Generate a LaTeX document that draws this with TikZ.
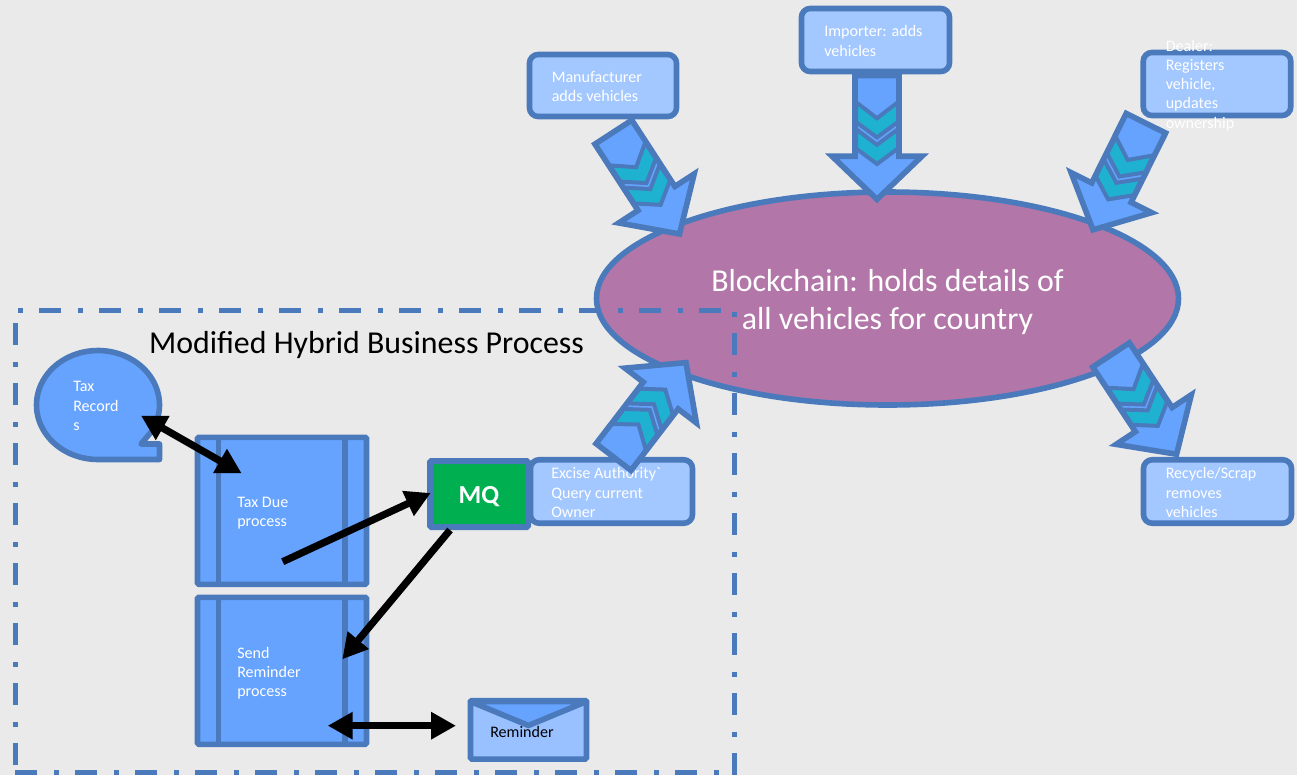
\documentclass[tikz,border=0pt]{standalone}
\usepackage{fontspec}
\setmainfont{Carlito}
\newfontfamily\plainfont{Carlito}
\usetikzlibrary{arrows.meta,shapes.geometric}
\definecolor{bgc}{HTML}{EAEAEA}
\definecolor{edgec}{HTML}{4A7ABC}
\definecolor{shaftc}{HTML}{66A3FF}
\definecolor{boxc}{HTML}{A3C7FF}
\definecolor{tealc}{HTML}{1FB2D0}
\definecolor{chainc}{HTML}{B376A8}
\definecolor{mqc}{HTML}{00B050}
\definecolor{envc}{HTML}{99C0FF}
\tikzset{
  edgeline/.style={draw=edgec,line width=4.2pt,line join=miter,miter limit=10},
  actorbox/.style={draw=edgec,line width=4.2pt,fill=boxc,rounded corners=6.5pt,inner sep=0pt},
  procbox/.style={draw=edgec,line width=4.2pt,fill=shaftc,rounded corners=1pt,inner sep=0pt},
  bodytext/.style={text=white,font=\fontsize{12.05}{14.4}\selectfont,align=left,anchor=west,inner sep=0pt},
  bigtext/.style={font=\fontsize{23.9}{28.6}\selectfont,align=center,inner sep=0pt},
  thickarrow/.style={line width=5.4pt,draw=black,{Triangle[length=18.75pt,width=19.5pt]}-{Triangle[length=18.75pt,width=19.5pt]}},
  onearrow/.style={line width=5.4pt,draw=black,-{Triangle[length=18.75pt,width=19.5pt]}},
  dotdash/.style={draw=edgec,line width=3.75pt,dash pattern=on 16.5pt off 12.75pt on 3.75pt off 12pt}
}
\newcommand{\blockarrow}[4]{%
  \begin{scope}[shift={(#1,#2)},rotate=#3,xscale=#4]
    \draw[edgeline,fill=shaftc] (2.5,-22)--(80,-22)--(80,-45)--(121.5,0)--(80,45)--(80,22)--(2.5,22)--cycle;
    \draw[edgeline,fill=tealc,line width=3pt] (28,-21)--(43.5,0)--(28,21)--(47,21)--(62,0)--(47,-21)--cycle;
    \draw[edgeline,fill=tealc,line width=3pt] (54,-21)--(69,0)--(54,21)--(72.5,21)--(87.5,0)--(72.5,-21)--cycle;
  \end{scope}}
\begin{document}
\begin{tikzpicture}[x=0.75pt,y=-0.75pt]
\useasboundingbox (0,0) rectangle (1297,775);
\fill[bgc] (0,0) rectangle (1297,775);

% blockchain
\node[draw=edgec,line width=4.2pt,fill=chainc,ellipse,minimum width=582*0.75pt,minimum height=213*0.75pt,inner sep=0pt] (chain) at (887.5,298.5) {};
\node[bigtext,text=white] (chaintext) at (887.5,302) {Blockchain: holds details of\\all vehicles for country};

% block arrows and actors
\blockarrow{877}{73}{-90}{1.04}
\blockarrow{612}{130}{-57}{1.02}
\blockarrow{1147}{121}{-116.4}{1}
\blockarrow{1109.7}{352.8}{-56.6}{1}

\node[actorbox,minimum width=147*0.75pt,minimum height=62*0.75pt] (manu) at (603,85.5) {};
\node[bodytext] (manut) at (551.5,86.5) {Manufacturer\\adds vehicles};
\node[actorbox,minimum width=148*0.75pt,minimum height=63*0.75pt] (imp) at (875.5,40) {};
\node[bodytext] (impt) at (824,41) {Importer: adds\\vehicles};
\node[actorbox,minimum width=147.5*0.75pt,minimum height=63*0.75pt] (deal) at (1217,84) {};
\node[actorbox,minimum width=148*0.75pt,minimum height=63.5*0.75pt] (scrap) at (1217.5,491.5) {};
\node[bodytext] (scrapt) at (1165.5,492.5) {Recycle/Scrap\\removes\\vehicles};
\node[actorbox,minimum width=162*0.75pt,minimum height=63.5*0.75pt] (excise) at (611.5,491.5) {};
\node[bodytext] (exciset) at (551,492.5) {Excise Authority{\plainfont `}\\Query current\\Owner};
\blockarrow{612}{459}{52.5}{1}
\node[bodytext] (dealt) at (1165.5,85.5) {Dealer:\\Registers\\vehicle,\\updates\\ownership};

% business process boundary
\draw[dotdash,dash phase=27pt] (15,310.5) -- (734.5,310.5);
\draw[dotdash,dash phase=28pt] (734.5,310.5) -- (734.5,775);
\draw[dotdash,dash phase=35.75pt] (15,310.5) -- (15,772);
\draw[dotdash] (15,772) -- (734.5,772);
\node[bigtext,text=black] (title) at (366.5,345) {Modified Hybrid Business Process};

% tax records
\draw[edgeline,fill=shaftc,line join=round] plot[domain=90:388,samples=80] ({98+61.5*cos(\x)},{405+54.5*sin(\x)}) -- (141,444) -- (159.5,444) -- (159.5,459.5) -- cycle;
\node[bodytext] (taxt) at (73,406) {Tax\\Record\\s};

% processes
\node[procbox,minimum width=169*0.75pt,minimum height=147*0.75pt] (due) at (282,510.8) {};
\draw[edgeline] (218.5,437.5) -- (218.5,584);
\draw[edgeline] (345,437.5) -- (345,584);
\node[bodytext] (duet) at (237,513) {Tax Due\\process};
\node[procbox,minimum width=169*0.75pt,minimum height=147*0.75pt] (send) at (282,670.8) {};
\draw[edgeline] (218.5,597.5) -- (218.5,744);
\draw[edgeline] (345,597.5) -- (345,744);
\node[bodytext] (sendt) at (237,673.5) {Send\\Reminder\\process};

% MQ
\node[draw=edgec,line width=4.5pt,fill=mqc,rounded corners=1pt,minimum width=98*0.75pt,minimum height=66*0.75pt,inner sep=0pt] (mq) at (479,494) {};
\node[text=white,inner sep=0pt,font=\fontsize{19.5}{24}\selectfont\bfseries] (mqt) at (479,497) {MQ};

% envelope
\node[draw=edgec,line width=4.2pt,fill=envc,rounded corners=1pt,minimum width=116*0.75pt,minimum height=58.5*0.75pt,inner sep=0pt] (env) at (528.5,729.8) {};
\draw[edgeline,fill=shaftc,line join=round] (470.5,701.5) -- (528.5,725.5) -- (586.5,701.5) -- cycle;
\node[bodytext,text=black] (envt) at (490,732) {Reminder};

% black connectors
\coordinate (a1) at (141,415.7);
\coordinate (a2) at (241.7,473.3);
\coordinate (b1) at (282.7,561.7);
\coordinate (b2) at (430.7,493);
\coordinate (c1) at (450,530);
\coordinate (c2) at (342.3,659.3);
\coordinate (d1) at (327.7,725.7);
\coordinate (d2) at (456,725.7);
\draw[thickarrow] (a1) -- (a2);
\draw[onearrow] (b1) -- (b2);
\draw[onearrow] (c1) -- (c2);
\draw[thickarrow] (d1) -- (d2);
\end{tikzpicture}
\end{document}
